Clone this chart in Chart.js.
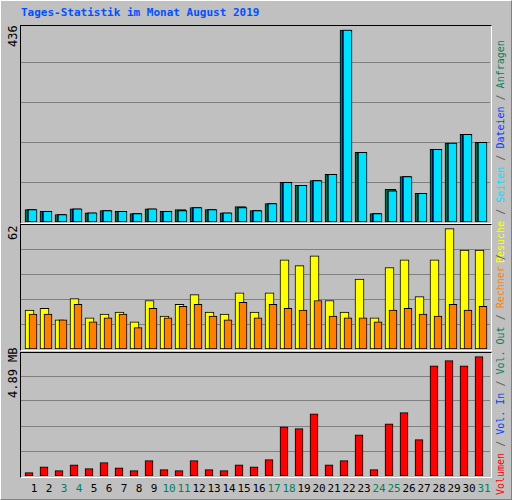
<!DOCTYPE html>
<html><head><meta charset="utf-8">
<script src="https://cdn.jsdelivr.net/npm/chart.js@4/dist/chart.umd.min.js"></script>
<style>
body{margin:0;background:#c0c0c0;}
#wrap{position:relative;width:510px;height:498px;background:#c0c0c0;border:1px solid;border-color:#ffffff #808080 #808080 #ffffff;font-family:"DejaVu Sans Mono",monospace;overflow:hidden}
.box{position:absolute;border-style:solid;border-width:1px;border-color:#000 #fff #fff #000;}
canvas{position:absolute;}
.rot{position:absolute;transform:rotate(-90deg);transform-origin:left top;white-space:nowrap;}
.xl{position:absolute;top:481px;width:16px;margin-left:-8px;text-align:center;font-size:11px;}
</style></head><body>
<div id="wrap">
<div style="position:absolute;left:20px;top:5px;font-size:11px;font-weight:bold;color:#0050ff">Tages-Statistik im Monat August 2019</div>
<div class="box" style="left:19px;top:24px;width:470px;height:197px"></div>
<div class="box" style="left:19px;top:223px;width:470px;height:125px"></div>
<div class="box" style="left:19px;top:351px;width:470px;height:124px"></div>
<canvas id="c1" width="469" height="196" style="left:20px;top:25px"></canvas>
<canvas id="c2" width="469" height="124" style="left:20px;top:224px"></canvas>
<canvas id="c3" width="469" height="123" style="left:20px;top:352px"></canvas>
<div class="rot" style="left:5px;top:46px;font-size:12px">436</div>
<div class="rot" style="left:5px;top:239px;font-size:12px">62</div>
<div class="rot" style="left:5px;top:397px;font-size:12px">4.89 MB</div>
<div class="rot" style="left:494px;top:262px;font-size:10px"><span style="color:#ffff00">Besuche</span><span style="color:#606060"> / </span><span style="color:#00e0ff">Seiten</span><span style="color:#606060"> / </span><span style="color:#0040ff">Dateien</span><span style="color:#606060"> / </span><span style="color:#00805c">Anfragen</span></div>
<div class="rot" style="left:494px;top:494px;font-size:10px"><span style="color:#ff0000">Volumen</span><span style="color:#606060"> / </span><span style="color:#0040ff">Vol. In</span><span style="color:#606060"> / </span><span style="color:#00805c">Vol. Out</span><span style="color:#606060"> / </span><span style="color:#ff8000">Rechner</span><span style="color:#606060"> /</span></div>
<div id="xlabels"></div>
</div>
<script>
const days = Array.from({length:31},(_,i)=>i+1);
const weekend = [3,4,10,11,17,18,24,25,31];
const anfragen = [28,24,17,30,21,26,24,19,30,24,28,33,28,21,35,26,42,90,83,94,108,436,158,19,74,103,65,165,179,199,181];
const dateien  = [28,24,17,30,21,26,24,19,30,24,26,33,28,21,33,26,42,90,83,94,108,436,158,19,71,103,65,165,179,199,181];
const seiten   = [28,24,17,30,21,26,24,19,30,24,26,33,28,21,33,26,42,90,83,94,108,436,158,19,71,103,65,165,179,199,181];
const besuche  = [20,21,15,26,16,18,19,14,25,17,23,28,19,18,29,19,29,46,43,48,25,19,36,16,42,46,27,46,62,51,51];
const rechner  = [18,18,15,23,14,16,18,11,21,16,22,23,17,15,24,16,23,21,20,25,17,16,16,14,20,21,18,17,23,20,22];
const volumen  = [0.14,0.38,0.22,0.46,0.30,0.55,0.34,0.22,0.63,0.26,0.22,0.63,0.26,0.22,0.46,0.38,0.67,2.02,1.94,2.55,0.46,0.63,1.69,0.26,2.14,2.60,1.49,4.52,4.73,4.52,4.89];
const maxLabels = ["436","62","4.89 MB"];

Chart.defaults.devicePixelRatio = 1;
const PX = 15, XMIN = 1 - 12/PX, XMAX = XMIN + 469/PX;
function ds(vals, color, offPx, w, order){
  return {data: vals.map((v,i)=>({x: days[i] + offPx/PX, y: v})), backgroundColor: color,
    borderColor:'#000', borderWidth:1, barThickness:w, grouped:false, order: order, borderSkipped:false};
}
function make(id, datasets, ymax, step){
  new Chart(document.getElementById(id), {type:'bar', data:{datasets},
    options:{responsive:false, animation:false, layout:{padding:0},
      plugins:{legend:{display:false}, tooltip:{enabled:false}},
      scales:{x:{type:'linear', display:false, offset:false, min:XMIN, max:XMAX},
        y:{min:0, max:ymax, border:{display:false}, ticks:{display:false},
          grid:{color:'#808080', drawTicks:false, lineWidth:1},
          afterBuildTicks:(s)=>{s.ticks=[1,2,3,4].map(k=>({value:k*step}));}}}}});
}
make('c1', [ds(anfragen,'#00805c',-2.5,11,3), ds(dateien,'#0040ff',-1.5,9,2), ds(seiten,'#00e0ff',-0.5,9,1)], 436*196/192, 436*40/192);
make('c2', [ds(besuche,'#ffff00',-3.5,9,2), ds(rechner,'#ff8000',0,8,1)], 62*124/120.3, 62*25/120.3);
make('c3', [ds(volumen,'#ff0000',-4,8,1)], 4.89*123/119.3, 4.89*25/119.3);

const xl = document.getElementById('xlabels');
days.forEach(d=>{
  const s=document.createElement('div'); s.className='xl';
  s.style.left=(33+(d-1)*PX)+'px';
  s.style.color = weekend.includes(d)?'#00805c':'#000';
  s.textContent=d; xl.appendChild(s);
});
</script>
</body></html>
